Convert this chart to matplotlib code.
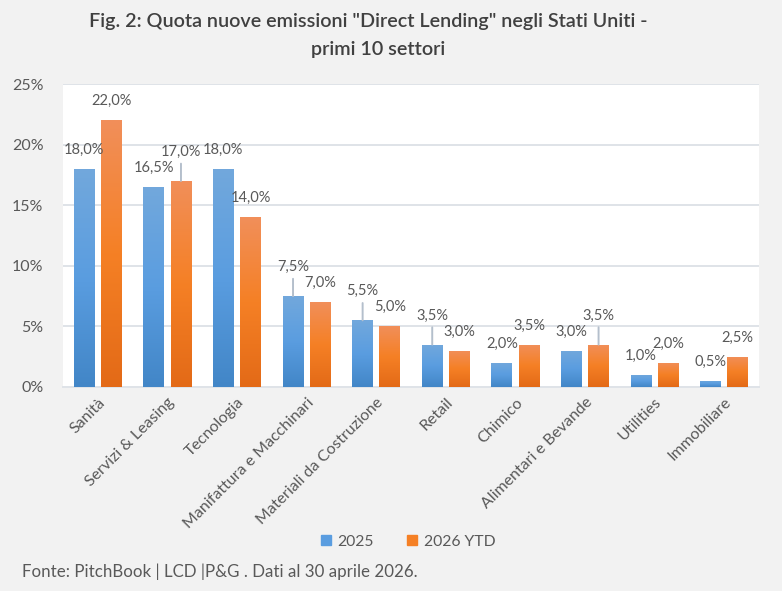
import matplotlib.pyplot as plt
import matplotlib.colors as mcolors
from matplotlib.patches import Patch
import numpy as np

plt.rcParams["font.family"] = ["Lato", "DejaVu Sans"]

settori = ["Sanità", "Servizi & Leasing", "Tecnologia", "Manifattura e Macchinari",
           "Materiali da Costruzione", "Retail", "Chimico", "Alimentari e Bevande",
           "Utilities", "Immobiliare"]
quota_2025 = [18.0, 16.5, 18.0, 7.5, 5.5, 3.5, 2.0, 3.0, 1.0, 0.5]
quota_2026 = [22.0, 17.0, 14.0, 7.0, 5.0, 3.0, 3.5, 3.5, 2.0, 2.5]
serie = ["2025", "2026 YTD"]
y_ticks = [0, 5, 10, 15, 20, 25]

# labels Excel moved up, with a leader line (series index, category index)
spostate = {(1, 1), (0, 3), (0, 4), (0, 5), (1, 7)}

testo = "#595959"
griglia = "#dfe3e8"
gradienti = [
    ["#4286c7", "#5a9de0", "#72a8dc"],
    ["#e36a17", "#f58025", "#f18f5a"],
]

fig = plt.figure(figsize=(7.82, 5.91), dpi=100, facecolor="#f2f2f2")
ax = fig.add_axes([63 / 782, 1 - 387 / 591, 696 / 782, 303 / 591])
ax.set_facecolor("white")

x = np.arange(len(settori))
w = 0.30
off = 0.195

for s, valori in enumerate([quota_2025, quota_2026]):
    bars = ax.bar(x + (off if s else -off), valori, w, color="none", zorder=3)
    cmap = mcolors.LinearSegmentedColormap.from_list("g%d" % s, gradienti[s])
    grad = np.linspace(0, 1, 256).reshape(-1, 1)
    for i, b in enumerate(bars):
        x0, h = b.get_x(), b.get_height()
        im = ax.imshow(grad, cmap=cmap, origin="lower", aspect="auto",
                       extent=[x0, x0 + w, 0, h], zorder=3)
        im.set_clip_path(b)
        lift = (s, i) in spostate
        lab = f"{valori[i]:.1f}".replace(".", ",") + "%"
        kw = {}
        if lift:
            kw["arrowprops"] = dict(arrowstyle="-", color="#b4bfcc", lw=1.4,
                                    relpos=(0.5, 0), shrinkA=1.5, shrinkB=0)
        ax.annotate(lab, (x0 + w / 2, h), xytext=(0, 21 if lift else 13.8),
                    textcoords="offset points", ha="center", va="center",
                    fontsize=10.5, color=testo, zorder=5, **kw)

ax.set_xlim(-0.5, len(settori) - 0.5)
ax.set_ylim(0, 25)
ax.set_yticks(y_ticks)
ax.set_yticklabels([f"{t}%" for t in y_ticks])
ax.set_xticks(x)
ax.set_xticklabels(settori, rotation=45, ha="right", rotation_mode="anchor")
ax.tick_params(length=0, colors=testo, labelsize=11.5)
ax.tick_params(axis="y", pad=14)
ax.tick_params(axis="x", pad=6)
ax.grid(axis="y", color=griglia, lw=1.4, zorder=0)
ax.set_axisbelow(True)
for sp in ["top", "right", "left"]:
    ax.spines[sp].set_visible(False)
ax.spines["bottom"].set_color(griglia)
ax.spines["bottom"].set_linewidth(1.4)

fig.text(0.471, 1 - 22 / 591, 'Fig. 2: Quota nuove emissioni "Direct Lending" negli Stati Uniti -',
         ha="center", va="center", fontsize=14.2, color="#404040", fontweight="semibold")
fig.text(0.483, 1 - 50 / 591, "primi 10 settori", ha="center", va="center",
         fontsize=14.2, color="#404040", fontweight="semibold")

handles = [Patch(color=gradienti[0][1]), Patch(color=gradienti[1][1])]
fig.legend(handles, serie, loc="center", bbox_to_anchor=(0.522, 1 - 542 / 591), ncol=2,
           frameon=False, fontsize=11.3, labelcolor=testo, handlelength=0.6,
           handleheight=0.6, handletextpad=0.45, columnspacing=2.1)

fig.text(22 / 782, 1 - 572 / 591, "Fonte: PitchBook | LCD |P&G . Dati al 30 aprile 2026.",
         ha="left", va="center", fontsize=12.2, color=testo)

fig.savefig("out.png", dpi=100, facecolor=fig.get_facecolor())
